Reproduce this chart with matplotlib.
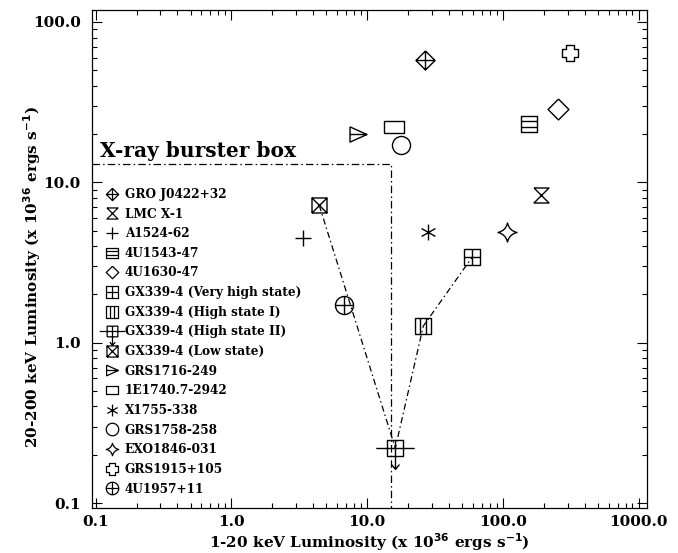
import numpy as np
import matplotlib
matplotlib.use("Agg")
import matplotlib.pyplot as plt
from matplotlib.path import Path
from matplotlib.lines import Line2D
from matplotlib.ticker import FixedLocator, FixedFormatter, LogLocator, NullFormatter

# ---------------- data ----------------
names = ["GRO J0422+32", "LMC X-1", "A1524-62", "4U1543-47", "4U1630-47",
         "GX339-4 (Very high state)", "GX339-4 (High state I)",
         "GX339-4 (High state II)", "GX339-4 (Low state)", "GRS1716-249",
         "1E1740.7-2942", "X1755-338", "GRS1758-258", "EXO1846-031",
         "GRS1915+105", "4U1957+11"]
lx = [26.7, 192, 3.36, 156, 256, 59.4, 25.9, 16.1, 4.43, 8.57, 15.8, 28.1, 17.8, 108, 313, 6.73]
ly = [57.9, 8.3, 4.49, 23.1, 28.6, 3.42, 1.27, 0.22, 7.2, 20.0, 22.1, 4.9, 17.1, 4.9, 64.0, 1.72]

# GX339-4 track (low -> high II -> high I -> very high)
track_x = [4.43, 16.1, 25.9, 59.4]
track_y = [7.2, 0.22, 1.27, 3.42]

# burster box corner
box_x = 15.0
box_y = 13.0

xticks = [0.1, 1.0, 10.0, 100.0, 1000.0]
xtick_labels = ["0.1", "1.0", "10.0", "100.0", "1000.0"]
yticks = [0.1, 1.0, 10.0, 100.0]
ytick_labels = ["0.1", "1.0", "10.0", "100.0"]

# ---------------- markers ----------------
M, L, C3, CL = Path.MOVETO, Path.LINETO, Path.CURVE3, Path.CLOSEPOLY

def polys(*lines):
    verts, codes = [], []
    for ln in lines:
        for i, p in enumerate(ln):
            verts.append(p)
            codes.append(M if i == 0 else L)
    return Path(verts, codes)

sq = [(-1, -1), (1, -1), (1, 1), (-1, 1), (-1, -1)]
dia = [(0, 1), (1, 0), (0, -1), (-1, 0), (0, 1)]

m_gro = polys(dia, [(-1, 0), (1, 0)], [(0, -1), (0, 1)])
m_lmc = polys([(-1, 1), (1, 1), (-1, -1), (1, -1), (-1, 1)])
m_plus = polys([(-1, 0), (1, 0)], [(0, -1), (0, 1)])
m_1543 = polys([(-1, -0.9), (1, -0.9), (1, 0.9), (-1, 0.9), (-1, -0.9)],
               [(-1, 0.3), (1, 0.3)], [(-1, -0.3), (1, -0.3)])
m_dia = polys(dia)
m_vhs = polys(sq, [(-1, 0), (1, 0)], [(0, -1), (0, 1)])
m_hs1 = polys(sq, [(-0.33, -1), (-0.33, 1)], [(0.33, -1), (0.33, 1)])
m_hs2 = polys(sq, [(-2.4, 0), (2.4, 0)], [(0, 1), (0, -2.6)],
              [(-0.5, -2.0), (0, -2.6), (0.5, -2.0)])
m_low = polys(sq, [(-1, -1), (1, 1)], [(-1, 1), (1, -1)])
m_tri = polys([(-1, 0.9), (1, 0), (-1, -0.9), (-1, 0.9)], [(-1, 0), (1, 0)])
m_rect = polys([(-1, -0.62), (1, -0.62), (1, 0.62), (-1, 0.62), (-1, -0.62)])
a = np.deg2rad(30)
m_ast = polys([(0, -1), (0, 1)], [(-np.cos(a), -np.sin(a)), (np.cos(a), np.sin(a))],
              [(-np.cos(a), np.sin(a)), (np.cos(a), -np.sin(a))])
m_circ = "o"
m_star = Path([(0, 1), (0.18, 0.18), (1, 0), (0.18, -0.18), (0, -1),
               (-0.18, -0.18), (-1, 0), (-0.18, 0.18), (0, 1), (0, 1)],
              [M, C3, C3, C3, C3, C3, C3, C3, C3, CL])
w = 0.45
m_cross = polys([(-w, 1), (w, 1), (w, w), (1, w), (1, -w), (w, -w), (w, -1), (-w, -1),
                 (-w, -w), (-1, -w), (-1, w), (-w, w), (-w, 1)])
m_cc = Path.make_compound_path(Path.unit_circle(), polys([(-1, 0), (1, 0)], [(0, -1), (0, 1)]))

markers = [m_gro, m_lmc, m_plus, m_1543, m_dia, m_vhs, m_hs1, m_hs2, m_low,
           m_tri, m_rect, m_ast, m_circ, m_star, m_cross, m_cc]
sizes = [13.7, 10.8, 11.5, 12.2, 15, 11.5, 11.5, 30, 10.8, 12.2, 13.7, 11.5, 13, 13.7, 12.2, 13]
leg_sizes = [8.8, 8.0, 8.0, 8.0, 9.0, 8.0, 8.0, 20, 8.0, 8.5, 8.5, 8.5, 9.0, 9.0, 8.8, 9.0]

# ---------------- figure ----------------
plt.rcParams["font.family"] = ["DejaVu Serif"]
plt.rcParams["font.weight"] = "bold"
plt.rcParams["mathtext.default"] = "bf"

fig = plt.figure(figsize=(6.78, 5.53), dpi=100)
ax = fig.add_axes([92 / 678, 1 - 508 / 553, (647 - 92) / 678, (508 - 10) / 553])
ax.set_xscale("log")
ax.set_yscale("log")
ax.set_xlim(0.0939, 1151)
ax.set_ylim(0.0931, 118.8)

lw = 0.9
# burster box
ax.plot([ax.get_xlim()[0], box_x, box_x], [box_y, box_y, ax.get_ylim()[0]],
        color="black", lw=lw, ls=(0, (6, 2.5, 1.2, 2.5)), zorder=1)
# GX339-4 track
ax.plot(track_x, track_y, color="black", lw=lw, ls=(0, (5, 2.5, 1.2, 2.5)), zorder=1)

for xi, yi, mk, s in zip(lx, ly, markers, sizes):
    ax.plot([xi], [yi], marker=mk, ms=s, mfc="none" if mk != "o" else "white",
            mec="black", mew=1.0, ls="none", zorder=3)

handles = [Line2D([], [], marker=mk, ms=s, mfc="none", mec="black", mew=0.9, ls="none")
           for mk, s in zip(markers, leg_sizes)]
leg = ax.legend(handles, names, loc="lower left", bbox_to_anchor=(0.025, 0.025),
                frameon=False, prop={"family": "DejaVu Serif", "weight": "bold", "size": 8.7},
                handlelength=1.05, handletextpad=0.5, labelspacing=0.55, borderpad=0,
                borderaxespad=0, numpoints=1)

ax.text(0.107, 14.3, "X-ray burster box", fontsize=14.5, fontweight="bold",
        family="DejaVu Serif", va="baseline", ha="left")

# ticks
ax.xaxis.set_major_locator(FixedLocator(xticks))
ax.xaxis.set_major_formatter(FixedFormatter(xtick_labels))
ax.yaxis.set_major_locator(FixedLocator(yticks))
ax.yaxis.set_major_formatter(FixedFormatter(ytick_labels))
ax.xaxis.set_minor_locator(LogLocator(base=10, subs=np.arange(2, 10)))
ax.yaxis.set_minor_locator(LogLocator(base=10, subs=np.arange(2, 10)))
ax.xaxis.set_minor_formatter(NullFormatter())
ax.yaxis.set_minor_formatter(NullFormatter())
ax.tick_params(which="both", direction="in", top=True, right=True, width=0.8)
ax.tick_params(which="major", length=7.5, labelsize=11)
ax.tick_params(axis="x", which="major", pad=5)
ax.tick_params(axis="y", which="major", pad=8)
ax.tick_params(which="minor", length=3.5)
for lab in ax.get_xticklabels() + ax.get_yticklabels():
    lab.set_fontweight("bold")
for sp in ax.spines.values():
    sp.set_linewidth(0.9)

ax.set_xlabel(r"1-20 keV Luminosity (x 10$^{36}$ ergs s$^{-1}$)", fontsize=11,
              fontweight="bold", labelpad=2)
ax.set_ylabel(r"20-200 keV Luminosity (x 10$^{36}$ ergs s$^{-1}$)", fontsize=11,
              fontweight="bold")
ax.yaxis.set_label_coords(-0.088, 0.464)

fig.savefig("out.png", dpi=100)
